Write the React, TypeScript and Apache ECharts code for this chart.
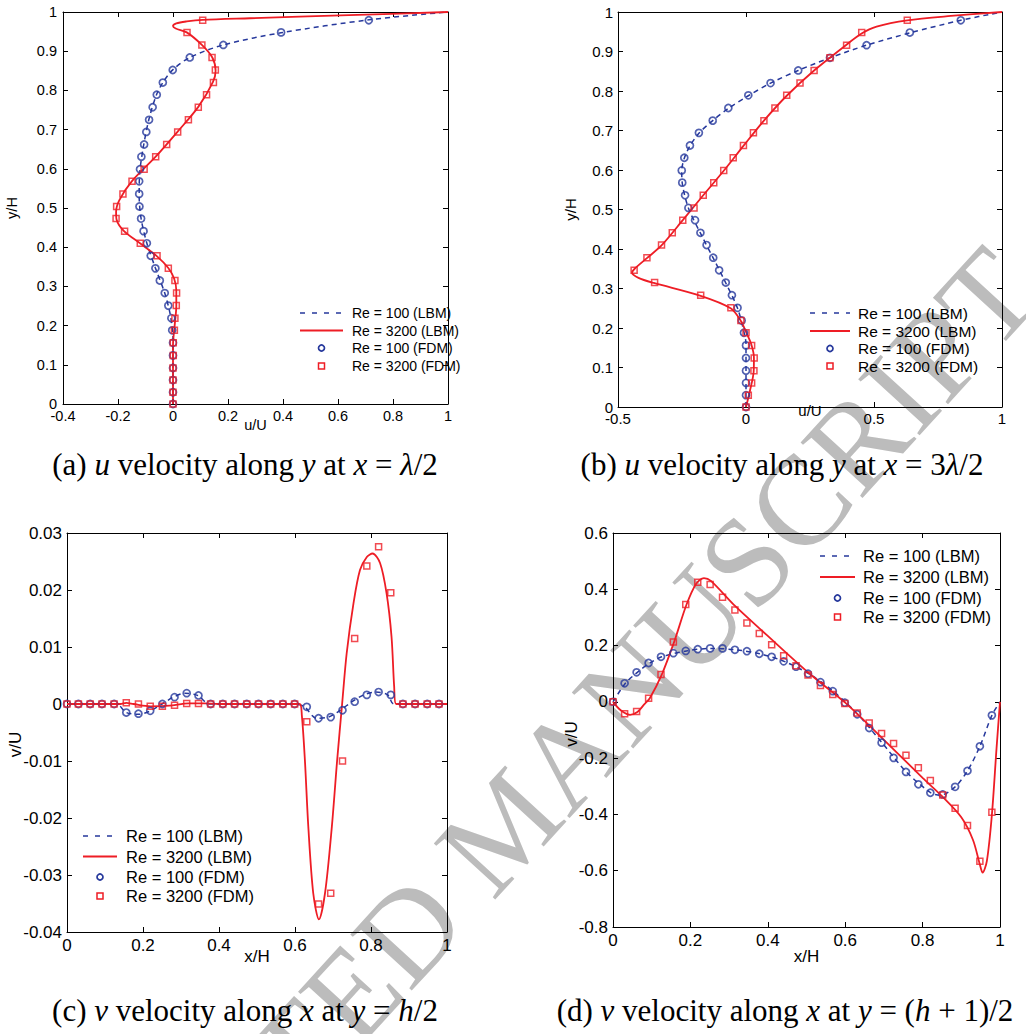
import React, { useEffect, useRef } from 'react';
import * as echarts from 'echarts';

// FDM grid positions (y/H in a,b ; x/H in c,d)
const fdmPos = [0, 0.03, 0.061, 0.092, 0.124, 0.156, 0.188, 0.219, 0.251, 0.283, 0.315, 0.346, 0.378, 0.41, 0.441, 0.473, 0.504, 0.536, 0.568, 0.599, 0.631, 0.662, 0.694, 0.725, 0.757, 0.789, 0.82, 0.852, 0.884, 0.916, 0.948, 0.979];

// (a) u velocity along y at x = lambda/2
const aU100 = [0, 0, 0, 0, 0, 0, -0.003, -0.006, -0.017, -0.03, -0.048, -0.064, -0.081, -0.095, -0.107, -0.116, -0.122, -0.123, -0.123, -0.12, -0.115, -0.105, -0.097, -0.087, -0.074, -0.059, -0.037, -0.001, 0.061, 0.183, 0.393, 0.712];
const aU3200 = [0, 0, 0, 0, 0.001, 0.001, 0.005, 0.007, 0.012, 0.013, 0.007, -0.017, -0.058, -0.119, -0.176, -0.207, -0.205, -0.182, -0.149, -0.105, -0.063, -0.023, 0.017, 0.056, 0.092, 0.122, 0.147, 0.154, 0.142, 0.105, 0.051, 0.108];
const aLine100: [number, number][] = [[0, 0], [0, 0.1], [0, 0.17], [-0.004, 0.2], [-0.012, 0.235], [-0.03, 0.283], [-0.064, 0.347], [-0.095, 0.41], [-0.116, 0.473], [-0.123, 0.53], [-0.121, 0.59], [-0.108, 0.655], [-0.088, 0.725], [-0.06, 0.789], [-0.035, 0.822], [0, 0.853], [0.061, 0.884], [0.183, 0.916], [0.393, 0.947], [0.712, 0.98], [1, 1]];
const aLine3200: [number, number][] = [[0, 0], [0, 0.15], [0.006, 0.2], [0.012, 0.25], [0.012, 0.29], [0.004, 0.32], [-0.017, 0.347], [-0.06, 0.378], [-0.12, 0.41], [-0.178, 0.441], [-0.205, 0.47], [-0.207, 0.49], [-0.195, 0.52], [-0.15, 0.568], [-0.063, 0.631], [0.017, 0.695], [0.092, 0.758], [0.145, 0.821], [0.155, 0.85], [0.143, 0.884], [0.105, 0.916], [0.05, 0.948], [0.01, 0.958], [0, 0.964], [0.012, 0.971], [0.05, 0.976], [0.108, 0.98], [0.28, 0.984], [0.64, 0.992], [1, 1]];

// (b) u velocity along y at x = 3 lambda/2
const bU100 = [0, 0, 0, 0, 0, 0, -0.008, -0.017, -0.033, -0.055, -0.079, -0.105, -0.128, -0.154, -0.178, -0.199, -0.225, -0.238, -0.249, -0.251, -0.241, -0.219, -0.184, -0.13, -0.069, 0.009, 0.096, 0.204, 0.328, 0.471, 0.64, 0.839];
const bU3200 = [0, 0.009, 0.022, 0.031, 0.032, 0.022, 0, -0.02, -0.059, -0.177, -0.357, -0.437, -0.387, -0.33, -0.288, -0.247, -0.203, -0.167, -0.126, -0.087, -0.05, -0.01, 0.029, 0.07, 0.113, 0.159, 0.211, 0.266, 0.328, 0.393, 0.452, 0.63];
const bLine100: [number, number][] = [[0, 0], [0, 0.16], [-0.008, 0.19], [-0.033, 0.25], [-0.079, 0.314], [-0.128, 0.377], [-0.178, 0.44], [-0.225, 0.504], [-0.249, 0.567], [-0.251, 0.598], [-0.241, 0.63], [-0.219, 0.661], [-0.184, 0.693], [-0.13, 0.725], [-0.069, 0.756], [0.009, 0.788], [0.096, 0.82], [0.204, 0.852], [0.328, 0.884], [0.471, 0.916], [0.64, 0.947], [0.839, 0.979], [1, 1]];
const bLine3200: [number, number][] = [[0, 0], [0.015, 0.04], [0.03, 0.09], [0.031, 0.125], [0.02, 0.16], [0, 0.19], [-0.02, 0.218], [-0.06, 0.25], [-0.18, 0.282], [-0.36, 0.314], [-0.42, 0.327], [-0.445, 0.34], [-0.435, 0.35], [-0.387, 0.377], [-0.33, 0.409], [-0.247, 0.473], [-0.167, 0.536], [-0.087, 0.598], [-0.01, 0.661], [0.07, 0.725], [0.159, 0.788], [0.266, 0.852], [0.39, 0.916], [0.45, 0.945], [0.51, 0.963], [0.63, 0.979], [0.8, 0.99], [1, 1]];

// (c) v velocity along x at y = h/2
const cV100 = [0, 0, 0, 0, 0, -0.0015, -0.0017, -0.0012, 0, 0.0012, 0.0019, 0.0015, 0, 0, 0, 0, 0, 0, 0, 0, -0.0005, -0.0025, -0.0023, -0.0011, 0.0004, 0.0016, 0.0021, 0.0016, 0, 0, 0, 0];
const cV3200 = [0, 0, 0, 0, 0, 0.0002, 0, -0.0004, -0.0004, -0.0002, 0.0001, 0.0001, 0, 0, 0, 0, 0, 0, 0, 0, -0.0031, -0.0351, -0.0332, -0.01, 0.0115, 0.0242, 0.0276, 0.0195, 0, 0, 0, 0];
const cLine100: [number, number][] = [[0, 0], [0.13, 0], [0.156, -0.0015], [0.19, -0.0018], [0.22, -0.0012], [0.25, 0], [0.28, 0.0012], [0.31, 0.0019], [0.344, 0.0015], [0.375, 0], [0.6, 0], [0.625, -0.0005], [0.656, -0.0025], [0.688, -0.0023], [0.719, -0.0011], [0.75, 0.0004], [0.781, 0.0016], [0.813, 0.0021], [0.844, 0.0016], [0.86, 0], [1, 0]];
const cLine3200: [number, number][] = [[0, 0], [0.14, 0], [0.156, 0.0002], [0.175, 0], [0.22, -0.0004], [0.27, -0.0003], [0.32, 0.0001], [0.36, 0.0001], [0.4, 0], [0.612, 0], [0.618, -0.002], [0.626, -0.0098], [0.635, -0.0215], [0.648, -0.0332], [0.663, -0.0378], [0.679, -0.0332], [0.697, -0.0215], [0.711, -0.0098], [0.724, 0], [0.736, 0.0089], [0.754, 0.0177], [0.771, 0.0235], [0.789, 0.0258], [0.804, 0.0264], [0.824, 0.0247], [0.841, 0.0194], [0.854, 0.0118], [0.861, 0.003], [0.866, 0], [1, 0]];

// (d) v velocity along x at y = (h+1)/2
const dV100 = [0, 0.066, 0.105, 0.138, 0.16, 0.173, 0.181, 0.187, 0.19, 0.19, 0.185, 0.18, 0.171, 0.16, 0.144, 0.125, 0.1, 0.07, 0.038, -0.003, -0.044, -0.093, -0.145, -0.199, -0.249, -0.293, -0.323, -0.329, -0.302, -0.245, -0.158, -0.048];
const dV3200 = [0, -0.042, -0.034, 0.013, 0.097, 0.213, 0.346, 0.425, 0.417, 0.372, 0.326, 0.28, 0.243, 0.203, 0.164, 0.128, 0.095, 0.058, 0.026, -0.006, -0.04, -0.075, -0.112, -0.148, -0.19, -0.234, -0.279, -0.331, -0.378, -0.439, -0.566, -0.392];
const dLine100: [number, number][] = [[0, 0], [0.032, 0.066], [0.063, 0.105], [0.095, 0.138], [0.126, 0.16], [0.19, 0.181], [0.253, 0.19], [0.316, 0.185], [0.379, 0.171], [0.442, 0.144], [0.506, 0.1], [0.569, 0.038], [0.632, -0.044], [0.695, -0.145], [0.758, -0.249], [0.821, -0.323], [0.845, -0.332], [0.884, -0.302], [0.916, -0.245], [0.948, -0.158], [0.979, -0.048], [1, 0]];
const dLine3200: [number, number][] = [[0, 0], [0.02, -0.03], [0.044, -0.046], [0.063, -0.036], [0.08, -0.01], [0.095, 0.013], [0.126, 0.097], [0.158, 0.213], [0.19, 0.346], [0.215, 0.42], [0.235, 0.44], [0.253, 0.43], [0.316, 0.34], [0.397, 0.238], [0.509, 0.099], [0.6, -0.003], [0.7, -0.135], [0.8, -0.27], [0.85, -0.335], [0.9, -0.41], [0.93, -0.49], [0.948, -0.578], [0.955, -0.607], [0.966, -0.566], [0.979, -0.402], [0.991, -0.166], [1, 0]];

const legendNames = ['Re = 100 (LBM)', 'Re = 3200 (LBM)', 'Re = 100 (FDM)', 'Re = 3200 (FDM)'];
const captions = [
  '(a) {i|u} velocity along {i|y} at {i|x} = {i|λ}/2',
  '(b) {i|u} velocity along {i|y} at {i|x} = 3{i|λ}/2',
  '(c) {i|v} velocity along {i|x} at {i|y} = {i|h}/2',
  '(d) {i|v} velocity along {i|x} at {i|y} = ({i|h} + 1)/2',
];

const BLUE = '#26389c';
const RED = '#ee1d25';
const SANS = 'Liberation Sans, Arial, sans-serif';
const SERIF = 'Liberation Serif, Times New Roman, serif';

const grids = [
  { left: 63, top: 12, width: 385, height: 392 },
  { left: 618, top: 12, width: 384, height: 395 },
  { left: 67, top: 533, width: 380, height: 399 },
  { left: 613, top: 533, width: 387, height: 394 },
];
const fontSizes = [14.5, 15, 17, 17];
const xRanges = [
  { min: -0.4, max: 1, interval: 0.2, name: 'u/U', gap: 13, margin: 4 },
  { min: -0.5, max: 1, interval: 0.5, name: 'u/U', gap: -4, margin: 4 },
  { min: 0, max: 1, interval: 0.2, name: 'x/H', gap: 16, margin: 5 },
  { min: 0, max: 1, interval: 0.2, name: 'x/H', gap: 21, margin: 5 },
];
const yRanges = [
  { min: 0, max: 1, interval: 0.1, name: 'y/H', gap: 44, margin: 6, pad: [0, 0, 0, 0] },
  { min: 0, max: 1, interval: 0.1, name: 'y/H', gap: 40, margin: 5, pad: [0, 0, 0, 0] },
  { min: -0.04, max: 0.03, interval: 0.01, name: 'v/U', gap: 43, margin: 5, pad: [0, 24, 0, 0] },
  { min: -0.8, max: 0.6, interval: 0.2, name: 'v/U', gap: 33, margin: 5, pad: [0, 8, 0, 0] },
];
const legendPos = [
  { x0: 300, x1: 343, tx: 352, rows: [313, 330.5, 348, 366], fs: 14 },
  { x0: 810, x1: 850, tx: 858, rows: [313, 331, 348.5, 366], fs: 15.5 },
  { x0: 83, x1: 117, tx: 126, rows: [836, 856.5, 877, 896], fs: 16.5 },
  { x0: 820, x1: 855, tx: 863, rows: [556, 577, 598, 617], fs: 16.5 },
];
const captionPos = [
  { x: 245, y: 464, fs: 31 },
  { x: 782, y: 464, fs: 31 },
  { x: 245, y: 1010, fs: 31 },
  { x: 785, y: 1010, fs: 31 },
];

function buildOption() {
  const xAxis: any[] = [];
  const yAxis: any[] = [];
  const series: any[] = [];
  const graphic: any[] = [];
  const axisLine = { show: true, onZero: false, lineStyle: { color: '#000', width: 1 } };
  const axisTick = { show: true, inside: true, length: 5, lineStyle: { color: '#000', width: 1 } };

  grids.forEach((g, k) => {
    const xr = xRanges[k];
    const yr = yRanges[k];
    const fs = fontSizes[k];
    xAxis.push({
      type: 'value', gridIndex: k, position: 'bottom', min: xr.min, max: xr.max, interval: xr.interval,
      axisLine, axisTick, splitLine: { show: false },
      axisLabel: { color: '#000', fontFamily: SANS, fontSize: fs, margin: xr.margin },
      name: xr.name, nameLocation: 'middle', nameGap: xr.gap, nameMoveOverlap: false,
      nameTextStyle: { color: '#000', fontFamily: SANS, fontSize: fs },
    });
    xAxis.push({
      type: 'value', gridIndex: k, position: 'top', min: xr.min, max: xr.max, interval: xr.interval,
      axisLine, axisTick, splitLine: { show: false }, axisLabel: { show: false },
    });
    yAxis.push({
      type: 'value', gridIndex: k, position: 'left', min: yr.min, max: yr.max, interval: yr.interval,
      axisLine, axisTick, splitLine: { show: false },
      axisLabel: { color: '#000', fontFamily: SANS, fontSize: fs, margin: yr.margin },
      name: yr.name, nameLocation: 'middle', nameGap: yr.gap, nameRotate: 90, nameMoveOverlap: false,
      nameTextStyle: { color: '#000', fontFamily: SANS, fontSize: fs, padding: yr.pad },
    });
    yAxis.push({
      type: 'value', gridIndex: k, position: 'right', min: yr.min, max: yr.max, interval: yr.interval,
      axisLine, axisTick, splitLine: { show: false }, axisLabel: { show: false },
    });
  });

  const lines100 = [aLine100, bLine100, cLine100, dLine100];
  const lines3200 = [aLine3200, bLine3200, cLine3200, dLine3200];
  const fdm100 = [
    aU100.map((u, i) => [u, fdmPos[i]]),
    bU100.map((u, i) => [u, fdmPos[i]]),
    cV100.map((v, i) => [fdmPos[i], v]),
    dV100.map((v, i) => [fdmPos[i], v]),
  ];
  const fdm3200 = [
    aU3200.map((u, i) => [u, fdmPos[i]]),
    bU3200.map((u, i) => [u, fdmPos[i]]),
    cV3200.map((v, i) => [fdmPos[i], v]),
    dV3200.map((v, i) => [fdmPos[i], v]),
  ];

  for (let k = 0; k < 4; k++) {
    const xi = 2 * k;
    const yi = 2 * k;
    series.push({
      name: legendNames[0], type: 'line', xAxisIndex: xi, yAxisIndex: yi, data: lines100[k],
      showSymbol: false, symbol: 'none', smooth: 0.3,
      lineStyle: { color: BLUE, width: 1.5, type: [5, 4] }, z: 2,
    });
    series.push({
      name: legendNames[1], type: 'line', xAxisIndex: xi, yAxisIndex: yi, data: lines3200[k],
      showSymbol: false, symbol: 'none', smooth: 0.3,
      lineStyle: { color: RED, width: 1.8 }, z: 3,
    });
    series.push({
      name: legendNames[2], type: 'scatter', xAxisIndex: xi, yAxisIndex: yi, data: fdm100[k],
      symbol: 'circle', symbolSize: 7,
      itemStyle: { color: 'rgba(255,255,255,0)', borderColor: BLUE, borderWidth: 1.7 }, z: 4,
    });
    series.push({
      name: legendNames[3], type: 'scatter', xAxisIndex: xi, yAxisIndex: yi, data: fdm3200[k],
      symbol: 'rect', symbolSize: 6,
      itemStyle: { color: 'rgba(255,255,255,0)', borderColor: RED, borderWidth: 1.5 }, z: 5,
    });

    const lp = legendPos[k];
    const cx = (lp.x0 + lp.x1) / 2;
    graphic.push({ type: 'line', z: 10, shape: { x1: lp.x0, y1: lp.rows[0], x2: lp.x1, y2: lp.rows[0] }, style: { stroke: BLUE, lineWidth: 1.5, lineDash: [5, 7] } });
    graphic.push({ type: 'line', z: 10, shape: { x1: lp.x0, y1: lp.rows[1], x2: lp.x1, y2: lp.rows[1] }, style: { stroke: RED, lineWidth: 1.8 } });
    graphic.push({ type: 'circle', z: 10, shape: { cx, cy: lp.rows[2], r: 3 }, style: { fill: 'none', stroke: BLUE, lineWidth: 1.7 } });
    graphic.push({ type: 'rect', z: 10, shape: { x: cx - 3, y: lp.rows[3] - 3, width: 6, height: 6 }, style: { fill: 'none', stroke: RED, lineWidth: 1.5 } });
    legendNames.forEach((nm, r) => {
      graphic.push({
        type: 'text', z: 10, x: lp.tx, y: lp.rows[r],
        style: { text: nm, fill: '#000', font: `${lp.fs}px ${SANS}`, textAlign: 'left', textVerticalAlign: 'middle', align: 'left', verticalAlign: 'middle' },
      });
    });

    const cp = captionPos[k];
    graphic.push({
      type: 'text', z: 10, x: cp.x, y: cp.y,
      style: {
        text: captions[k], fill: '#000', fontFamily: SERIF, fontSize: cp.fs,
        textAlign: 'center', textVerticalAlign: 'middle', align: 'center', verticalAlign: 'middle',
        rich: { i: { fontFamily: SERIF, fontSize: cp.fs, fontStyle: 'italic', fill: '#000' } },
      },
    });
  }

  // watermark
  graphic.unshift({
    type: 'text', z: -10, x: 505, y: 825, rotation: 0.83,
    style: {
      text: 'ACCEPTED MANUSCRIPT', fill: '#bcbcbc', fontFamily: SERIF, fontSize: 127,
      textAlign: 'center', textVerticalAlign: 'middle', align: 'center', verticalAlign: 'middle',
    },
  });

  return {
    animation: false,
    backgroundColor: '#fff',
    grid: grids.map((g) => ({ ...g, containLabel: false })),
    xAxis,
    yAxis,
    series,
    graphic,
  };
}

export default function App() {
  const ref = useRef<HTMLDivElement>(null);
  useEffect(() => {
    const chart = echarts.init(ref.current as HTMLDivElement, null, { renderer: 'svg' });
    chart.setOption(buildOption() as any);
    return () => chart.dispose();
  }, []);
  return <div ref={ref} style={{ position: 'absolute', left: 0, top: 0, width: 1026, height: 1034, background: '#fff' }} />;
}
